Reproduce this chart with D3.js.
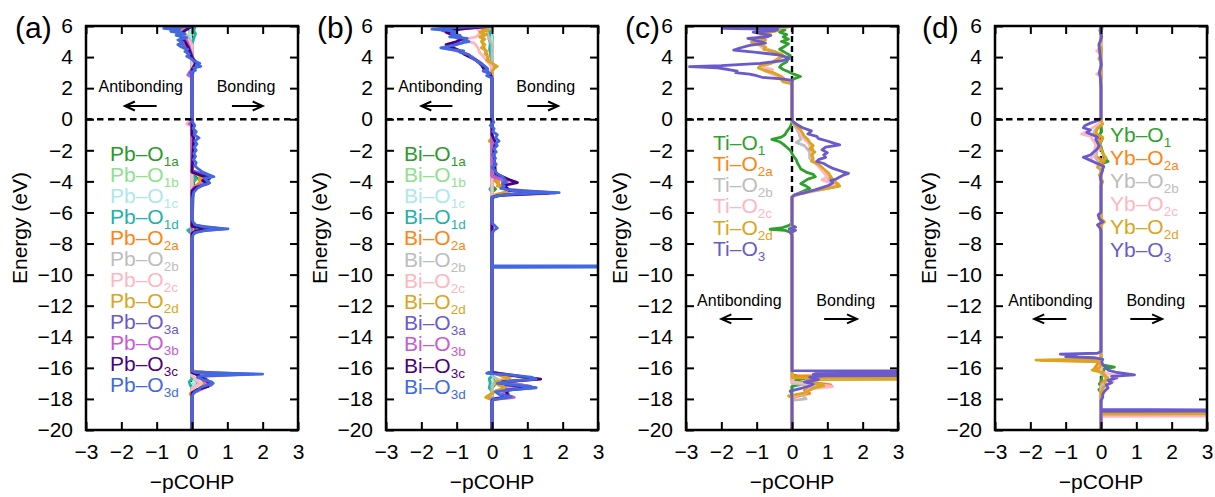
<!DOCTYPE html>
<html>
<head>
<meta charset="utf-8">
<script src="https://cdn.jsdelivr.net/npm/d3@7"></script>
<style>
  body { margin: 0; background: #fff; }
  svg { display: block; }
  text { font-family: "Liberation Sans", Arial, Helvetica, sans-serif; }
</style>
</head>
<body>
<svg id="chart" width="1215" height="497"></svg>
<script>
// ---- axis definitions ----
const energyDomain = [-20, 6];
const cohpDomain = [-3, 3];
const energyTicks = [6, 4, 2, 0, -2, -4, -6, -8, -10, -12, -14, -16, -18, -20];
const cohpTicks = [-3, -2, -1, 0, 1, 2, 3];
const panelLetters = ["(a)", "(b)", "(c)", "(d)"];
const metals = ["Pb", "Bi", "Ti", "Yb"];

// ---- series labels and colours ----
const labelsABCD12 = ["1a", "1b", "1c", "1d", "2a", "2b", "2c", "2d", "3a", "3b", "3c", "3d"];
const colorsABCD12 = ["#2a9a2a", "#8fe08f", "#aee8ea", "#22b2a6", "#ff8412", "#bdbdbd",
                      "#ffb6c1", "#daa520", "#6a5acd", "#c45cd6", "#4b0082", "#4169e1"];
const labels6 = ["1", "2a", "2b", "2c", "2d", "3"];
const colors6 = ["#2ea02e", "#ff8412", "#bdbdbd", "#ffb6c1", "#daa520", "#6a5acd"];

// ---- -pCOHP curves: [energy (eV), -pCOHP] ----
// (a) Pb–O
const pbO1a = [[6,0],[5.8,-0.1],[5.6,0.02],[5.2,-0.05],[4.6,0],[-3.5,0],[-3.8,0.15],[-4.0,0.05],[-6.9,0],[-7.1,0.1],[-7.25,0],[-16.5,0],[-16.9,0.15],[-17.2,0],[-20,0]];
const pbO1b = [[6,0],[5.6,-0.08],[5.0,0],[-3.7,0],[-3.85,0.1],[-4.0,0],[-16.6,0],[-16.9,0.1],[-17.1,0],[-20,0]];
const pbO1c = [[6,0],[5.4,-0.05],[4.8,0],[-16.7,0],[-17.0,0.08],[-17.2,0],[-20,0]];
const pbO1d = [[6,0],[5.9,0.08],[5.7,0.05],[5.5,0.1],[5.2,0.05],[4.8,0],[-3.6,0],[-3.8,0.1],[-4.1,0],[-7.0,0],[-7.15,-0.12],[-7.3,-0.05],[-7.4,0],[-16.7,0],[-16.9,-0.08],[-17.1,-0.05],[-17.3,0],[-20,0]];
const pbO2a = [[6,0],[5.85,-0.55],[5.7,-0.2],[5.5,-0.4],[5.3,-0.15],[5.0,-0.3],[4.6,-0.2],[4.3,-0.1],[4.0,0],[3.6,0.15],[3.3,0.05],[3.0,0],[-3.3,0],[-3.6,0.2],[-3.8,0.3],[-4.0,0.25],[-4.2,0.15],[-4.5,0],[-6.8,0],[-7.0,0.3],[-7.15,0.2],[-7.3,0],[-16.2,0],[-16.3,0.35],[-16.45,0.2],[-16.7,0.3],[-17.0,0.35],[-17.3,0.25],[-17.55,0.05],[-17.7,-0.05],[-17.85,0],[-20,0]];
const pbO2b = [[6,0],[5.7,-0.3],[5.3,-0.1],[4.8,0],[-16.5,0],[-17.0,0.2],[-17.4,0],[-20,0]];
const pbO2c = [[6,0],[5.6,-0.35],[5.3,-0.2],[4.8,0],[0.1,0],[-0.2,-0.1],[-0.3,-0.15],[-0.45,0],[-16.5,0],[-17.0,0.25],[-17.3,0],[-20,0]];
const pbO2d = [[6,0],[5.9,-0.6],[5.75,-0.25],[5.55,-0.45],[5.35,-0.2],[5.1,-0.35],[4.85,-0.2],[4.6,-0.25],[4.3,-0.05],[3.9,0],[3.5,0.15],[3.2,0.05],[2.9,-0.05],[2.7,0],[-3.4,0],[-3.65,0.25],[-3.9,0.2],[-4.1,0.3],[-4.3,0.1],[-4.6,0],[-6.8,0],[-6.95,0.15],[-7.1,0.35],[-7.25,0.15],[-7.4,0],[-16.2,0],[-16.3,0.4],[-16.45,0.15],[-16.7,0.25],[-17.0,0.45],[-17.3,0.2],[-17.5,0.15],[-17.65,-0.05],[-17.8,0.02],[-17.9,0],[-20,0]];
const pbO3a = [[6,0],[5.85,-0.7],[5.7,-0.4],[5.5,-0.3],[5.2,-0.3],[4.9,-0.3],[4.5,-0.15],[4.1,-0.1],[3.6,0.18],[3.2,0.05],[2.8,0],[-3.3,0],[-3.6,0.4],[-3.8,0.5],[-4.1,0.4],[-4.4,0.1],[-4.7,0],[-6.8,0],[-7.05,0.9],[-7.2,0.2],[-7.4,0],[-16.25,0],[-16.4,1.6],[-16.55,0.3],[-16.9,0.5],[-17.1,0.55],[-17.4,0.15],[-17.7,0],[-20,0]];
const pbO3b = [[6,0],[5.6,-0.3],[5.3,-0.2],[4.8,-0.1],[3.5,0.1],[3.0,-0.08],[2.85,-0.12],[2.7,0],[-0.2,0],[-0.3,-0.08],[-0.4,0],[-3.4,0],[-3.7,0.35],[-3.85,0.45],[-4.1,0.35],[-4.4,0.05],[-4.6,0],[-16.3,0],[-16.5,0.25],[-16.8,0.3],[-17.1,0.55],[-17.3,0.35],[-17.6,0.05],[-17.8,0],[-20,0]];
const pbO3c = [[6,0],[5.7,-0.2],[5.4,-0.35],[5.0,-0.2],[4.6,-0.1],[4.0,0],[3.6,0.1],[3.2,0],[-1.0,0],[-1.2,0.05],[-3.4,0],[-3.65,0.3],[-3.8,0.5],[-3.95,0.3],[-4.15,0.45],[-4.4,0.1],[-4.6,0],[-6.9,0],[-7.05,0.45],[-7.2,0.1],[-7.35,0],[-16.3,0],[-16.5,0.2],[-16.8,0.4],[-17.0,0.5],[-17.2,0.45],[-17.4,0.15],[-17.6,0],[-20,0]];
const pbO3d = [[6,0],[5.85,-0.8],[5.75,-0.35],[5.65,-0.6],[5.5,-0.2],[5.4,-0.45],[5.25,-0.15],[5.1,-0.4],[4.95,-0.25],[4.8,-0.4],[4.65,-0.3],[4.5,-0.12],[4.35,-0.2],[4.2,-0.08],[4.05,-0.15],[3.9,-0.02],[3.75,0.05],[3.6,0.22],[3.5,0.12],[3.4,0.25],[3.3,0.05],[3.15,0.1],[3.0,-0.05],[2.85,0.02],[2.7,0],[0.1,0],[-0.05,-0.05],[-0.2,0.02],[-0.4,0.08],[-0.6,0.03],[-0.8,0.12],[-1.0,0.06],[-1.2,0.2],[-1.4,0.08],[-1.6,0.14],[-1.8,0.06],[-2.0,0.12],[-2.2,0.05],[-2.4,0.1],[-2.6,0.04],[-2.8,0.12],[-3.0,0.08],[-3.2,0.18],[-3.4,0.3],[-3.55,0.45],[-3.7,0.62],[-3.8,0.35],[-3.95,0.42],[-4.1,0.5],[-4.25,0.3],[-4.45,0.15],[-4.7,0.05],[-5.0,0.02],[-5.2,0],[-6.4,0],[-6.6,0.03],[-6.8,0.1],[-6.95,0.35],[-7.05,1.02],[-7.15,0.4],[-7.3,0.08],[-7.5,0.02],[-7.7,0],[-16.2,0],[-16.3,0.1],[-16.4,2.0],[-16.5,0.35],[-16.6,0.15],[-16.75,0.3],[-16.9,0.55],[-17.0,0.6],[-17.1,0.45],[-17.25,0.25],[-17.4,0.2],[-17.55,0.08],[-17.7,0.03],[-17.85,0],[-20,0]];

// (b) Bi–O
const biO1a = [[6,0],[5.8,-0.05],[5.4,0],[-4.3,0],[-4.5,0.1],[-4.7,0],[-16.6,0],[-17.0,0.1],[-17.3,0],[-20,0]];
const biO1b = [[6,0],[5.6,-0.05],[5.2,0],[-16.7,0],[-17.0,0.08],[-17.2,0],[-20,0]];
const biO1c = [[6,0],[5.5,-0.03],[5.0,0],[-20,0]];
const biO1d = [[6,-0.05],[5.8,-0.08],[5.5,-0.06],[5.2,-0.09],[4.9,-0.05],[4.5,-0.07],[4.0,-0.03],[3.6,0],[-4.3,0],[-4.5,-0.06],[-4.7,0],[-16.5,0],[-16.7,-0.08],[-17.0,-0.05],[-17.3,-0.08],[-17.5,0],[-20,0]];
const biO2a = [[6,0],[5.85,-0.25],[5.6,-0.3],[5.3,-0.25],[5.0,-0.28],[4.6,-0.22],[4.2,-0.15],[3.8,-0.1],[3.4,0.1],[3.1,0],[-3.8,0],[-4.1,0.15],[-4.5,0.35],[-4.65,0.45],[-4.85,0.1],[-5.0,0],[-7.0,0],[-7.2,0.05],[-7.35,0],[-16.3,0],[-16.5,0.25],[-16.75,0.45],[-17.0,0.1],[-17.3,0.35],[-17.5,0.1],[-17.85,-0.15],[-18.0,0],[-20,0]];
const biO2b = [[6,0],[5.7,-0.15],[5.3,-0.1],[4.8,0],[-9.42,0],[-9.48,0.05],[-9.54,0],[-16.5,0],[-16.8,0.2],[-17.1,0],[-20,0]];
const biO2c = [[6,0],[5.85,-0.45],[5.6,-0.3],[5.3,-0.45],[5.1,-0.85],[4.9,-0.5],[4.6,-0.4],[4.3,-0.35],[3.9,-0.2],[3.5,-0.05],[3.2,0],[-16.3,0],[-16.45,0.45],[-16.6,0.55],[-16.8,0.2],[-17.3,0.5],[-17.5,0.2],[-17.9,0.6],[-18.05,0],[-20,0]];
const biO2d = [[6,0],[5.9,-0.3],[5.75,-0.1],[5.6,-0.35],[5.45,-0.15],[5.3,-0.35],[5.15,-0.2],[5.0,-0.3],[4.8,-0.2],[4.6,-0.3],[4.4,-0.15],[4.2,-0.2],[4.0,-0.1],[3.8,-0.15],[3.6,0.0],[3.4,0.15],[3.25,0.05],[3.1,0],[-1.2,0],[-1.4,-0.08],[-1.6,0.05],[-1.8,0],[-3.6,0],[-3.8,0.1],[-4.0,0.2],[-4.3,0.15],[-4.5,0.4],[-4.65,0.5],[-4.8,0.2],[-5.0,0],[-16.3,0],[-16.5,0.3],[-16.7,0.5],[-16.9,0.1],[-17.1,0.2],[-17.3,0.4],[-17.5,0.1],[-17.9,-0.18],[-18.05,0],[-20,0]];
const biO3a = [[6,0],[5.85,-1.0],[5.7,-1.4],[5.5,-1.0],[5.3,-1.05],[5.1,-0.75],[4.9,-0.85],[4.65,-1.3],[4.45,-1.0],[4.2,-0.7],[3.9,-0.5],[3.6,-0.3],[3.3,-0.15],[3.0,-0.1],[2.7,0],[-3.6,0],[-3.9,0.3],[-4.2,0.3],[-4.5,0.4],[-4.72,1.7],[-4.85,0.4],[-5.0,0],[-16.3,0],[-16.5,0.7],[-16.7,1.2],[-16.9,0.3],[-17.2,1.1],[-17.4,0.4],[-17.85,0.5],[-18.0,0],[-20,0]];
const biO3b = [[6,0],[5.8,-0.9],[5.6,-1.2],[5.3,-1.0],[5.1,-0.95],[4.8,-1.0],[4.6,-1.35],[4.3,-0.85],[4.0,-0.55],[3.6,-0.35],[3.2,-0.18],[2.9,-0.08],[2.7,0],[-3.7,0],[-4.0,0.45],[-4.2,0.3],[-4.6,0.45],[-4.75,1.8],[-4.9,0.2],[-5.05,0],[-16.3,0],[-16.5,0.6],[-16.72,1.3],[-16.9,0.4],[-17.2,1.05],[-17.4,0.5],[-17.7,0.3],[-17.9,0.63],[-18.05,0],[-20,0]];
const biO3c = [[6,0],[5.8,-0.9],[5.6,-1.3],[5.4,-1.1],[5.2,-0.8],[5.0,-1.0],[4.8,-1.3],[4.6,-1.1],[4.4,-0.9],[4.2,-0.8],[3.8,-0.45],[3.5,-0.3],[3.1,-0.2],[2.9,-0.05],[2.6,0],[-1.0,0],[-1.5,0.1],[-2.0,0.05],[-3.5,0.1],[-3.9,0.5],[-4.08,0.72],[-4.25,0.35],[-4.6,0.5],[-4.75,1.6],[-4.9,0.2],[-5.05,0],[-16.3,0],[-16.5,0.6],[-16.73,1.38],[-16.9,0.3],[-17.1,0.4],[-17.27,1.2],[-17.45,0.4],[-17.85,0.45],[-18.0,0.1],[-18.1,0],[-20,0]];
const biO3d = [[6,0],[5.9,-1.1],[5.8,-1.7],[5.7,-1.2],[5.6,-1.0],[5.5,-1.15],[5.4,-0.9],[5.3,-1.2],[5.2,-0.7],[5.1,-0.8],[5.0,-0.65],[4.9,-0.9],[4.75,-1.1],[4.6,-1.45],[4.5,-1.2],[4.4,-0.8],[4.3,-0.9],[4.15,-0.65],[4.0,-0.6],[3.85,-0.5],[3.7,-0.4],[3.55,-0.3],[3.4,-0.2],[3.25,-0.12],[3.1,-0.25],[2.95,-0.05],[2.8,-0.15],[2.65,0],[0.1,0],[-0.2,0.05],[-0.4,-0.05],[-0.6,0.06],[-0.8,0.02],[-1.0,0.15],[-1.2,0.1],[-1.4,0.2],[-1.55,0.1],[-1.7,0.15],[-1.9,0.05],[-2.1,0.12],[-2.3,0.02],[-2.5,0.1],[-2.7,0.05],[-2.9,0.12],[-3.1,0.0],[-3.3,0.08],[-3.5,0.15],[-3.7,0.3],[-3.85,0.35],[-4.0,0.4],[-4.15,0.3],[-4.3,0.35],[-4.45,0.25],[-4.6,0.6],[-4.72,1.9],[-4.8,0.7],[-4.9,0.2],[-5.05,0],[-6.7,0],[-6.85,0.08],[-7.0,0.15],[-7.15,0.05],[-7.3,0],[-9.53,0],[-9.47,10],[-9.43,0],[-16.2,0],[-16.35,-0.15],[-16.45,0.5],[-16.6,1.1],[-16.72,1.25],[-16.85,0.5],[-17.0,0.15],[-17.15,0.8],[-17.28,1.25],[-17.4,0.6],[-17.55,0.1],[-17.7,0.2],[-17.85,0.55],[-17.95,0.3],[-18.05,0.05],[-18.15,0],[-20,0]];

// (c) Ti–O
const tiO1 = [[6,0],[5.85,-0.4],[5.75,-0.2],[5.6,-0.35],[5.45,-0.15],[5.3,-0.25],[5.15,-0.1],[5.0,-0.3],[4.85,-0.1],[4.7,-0.2],[4.5,-0.35],[4.3,-0.2],[4.1,-0.05],[3.9,-0.1],[3.7,-0.15],[3.5,-0.3],[3.35,-0.35],[3.2,-0.25],[3.05,-0.1],[2.9,0.05],[2.75,0.24],[2.6,0.05],[2.5,0],[-0.2,0],[-0.5,-0.05],[-0.8,-0.15],[-1.0,-0.2],[-1.15,-0.3],[-1.3,-0.57],[-1.45,-0.35],[-1.6,-0.25],[-1.8,-0.15],[-2.0,-0.05],[-2.2,0.0],[-2.4,0.05],[-2.6,0.12],[-2.8,0.15],[-3.0,0.2],[-3.2,0.25],[-3.4,0.4],[-3.55,0.6],[-3.7,0.66],[-3.85,0.45],[-4.0,0.35],[-4.15,0.25],[-4.3,0.4],[-4.45,0.5],[-4.6,0.35],[-4.75,0.2],[-4.9,0.05],[-5.05,0],[-6.7,0],[-6.85,-0.1],[-7.0,-0.3],[-7.08,-0.62],[-7.15,-0.2],[-7.3,0],[-16.4,0],[-16.55,0.15],[-16.7,0.35],[-16.8,0.1],[-16.9,0.2],[-17.0,0.45],[-17.1,0.2],[-17.2,0],[-20,0]];
const tiO2a = [[6,0],[5.85,-0.55],[5.7,-0.45],[5.5,-0.8],[5.3,-0.9],[5.1,-0.75],[4.9,-1.05],[4.7,-0.85],[4.5,-0.7],[4.3,-0.45],[4.1,-0.25],[3.9,-0.35],[3.7,-0.5],[3.5,-0.8],[3.35,-0.85],[3.15,-0.7],[2.95,-0.5],[2.75,-0.3],[2.55,-0.2],[2.4,0],[-0.1,0],[-0.5,0.12],[-0.9,0.28],[-1.3,0.4],[-1.7,0.55],[-2.1,0.6],[-2.5,0.55],[-2.9,0.7],[-3.3,0.9],[-3.6,1.0],[-3.9,1.1],[-4.1,1.25],[-4.3,1.3],[-4.5,0.9],[-4.7,0.4],[-4.9,0.05],[-5.05,0],[-16.5,0],[-16.56,8],[-16.62,0.4],[-16.9,0.5],[-17.1,1.1],[-17.25,0.6],[-17.45,0.35],[-17.65,0.5],[-17.85,0.1],[-18.0,0],[-20,0]];
const tiO2b = [[6,0],[5.8,-0.5],[5.5,-0.7],[5.2,-0.9],[4.9,-1.0],[4.6,-0.8],[4.3,-0.5],[4.0,-0.3],[3.7,-0.45],[3.4,-0.85],[3.1,-0.75],[2.8,-0.45],[2.5,-0.25],[2.3,0],[-0.1,0],[-0.5,0.1],[-0.9,0.2],[-1.3,0.25],[-1.5,0.12],[-1.7,0.35],[-2.1,0.5],[-2.5,0.5],[-2.9,0.7],[-3.3,0.9],[-3.7,1.0],[-4.0,1.05],[-4.3,1.2],[-4.5,0.8],[-4.8,0.2],[-5.0,0],[-17.0,0],[-17.2,0.8],[-17.5,0.4],[-17.8,0.3],[-18.0,0.4],[-18.1,0],[-20,0]];
const tiO2c = [[6,0],[5.8,-0.55],[5.5,-0.75],[5.2,-0.95],[4.9,-0.95],[4.6,-0.85],[4.3,-0.45],[4.0,-0.3],[3.7,-0.5],[3.4,-0.9],[3.2,-0.55],[3.0,-0.65],[2.7,-0.35],[2.4,-0.15],[2.3,0],[-0.1,0],[-0.5,0.12],[-0.9,0.25],[-1.3,0.35],[-1.5,0.45],[-1.7,0.5],[-2.1,0.55],[-2.5,0.55],[-2.9,0.7],[-3.3,0.85],[-3.7,1.0],[-3.9,0.85],[-4.1,1.1],[-4.3,1.2],[-4.5,0.85],[-4.8,0.25],[-5.0,0],[-16.9,0],[-17.05,0.6],[-17.2,1.15],[-17.35,0.5],[-17.6,0.4],[-17.8,0.1],[-17.9,0],[-20,0]];
const tiO2d = [[6,0],[5.85,-0.6],[5.7,-0.4],[5.55,-0.85],[5.4,-0.6],[5.25,-1.0],[5.1,-0.8],[4.95,-1.15],[4.8,-0.9],[4.65,-0.75],[4.5,-0.8],[4.35,-0.5],[4.2,-0.3],[4.05,-0.25],[3.9,-0.4],[3.75,-0.5],[3.6,-0.6],[3.45,-0.9],[3.3,-0.95],[3.15,-0.8],[3.0,-0.55],[2.85,-0.4],[2.7,-0.35],[2.55,-0.3],[2.4,-0.25],[2.3,-0.05],[2.2,0],[-0.1,0],[-0.3,0.05],[-0.5,0.15],[-0.7,0.25],[-0.9,0.3],[-1.1,0.35],[-1.3,0.45],[-1.5,0.5],[-1.7,0.6],[-1.9,0.5],[-2.1,0.65],[-2.3,0.55],[-2.5,0.6],[-2.7,0.55],[-2.9,0.75],[-3.1,0.85],[-3.3,0.95],[-3.5,1.05],[-3.7,1.1],[-3.85,1.15],[-4.0,1.2],[-4.15,1.3],[-4.3,1.35],[-4.45,1.0],[-4.6,0.6],[-4.75,0.3],[-4.9,0.05],[-5.05,0],[-6.9,0],[-7.1,-0.05],[-7.2,0.05],[-7.3,0],[-16.64,0],[-16.7,8],[-16.76,0.5],[-17.0,0.6],[-17.15,0.9],[-17.3,0.6],[-17.5,0.45],[-17.65,0.3],[-17.8,-0.1],[-17.95,0],[-20,0]];
const tiO3 = [[6,0],[5.85,-1.95],[5.78,-0.4],[5.7,-0.5],[5.6,-1.1],[5.5,-0.85],[5.4,-0.6],[5.3,-0.7],[5.2,-1.25],[5.05,-1.0],[4.9,-0.75],[4.75,-1.2],[4.6,-1.45],[4.45,-1.65],[4.3,-1.0],[4.15,-0.4],[4.0,-0.15],[3.9,-0.08],[3.75,-0.3],[3.6,-0.9],[3.45,-2.0],[3.38,-2.9],[3.3,-2.1],[3.2,-1.8],[3.1,-1.55],[3.0,-1.6],[2.9,-1.2],[2.8,-1.0],[2.7,-0.85],[2.6,-0.3],[2.5,0],[0,0],[-0.15,0.03],[-0.35,0.15],[-0.55,0.3],[-0.75,0.55],[-0.95,0.45],[-1.1,0.7],[-1.25,0.75],[-1.4,1.0],[-1.55,1.2],[-1.65,1.35],[-1.8,0.95],[-1.97,0.85],[-2.15,1.0],[-2.3,0.9],[-2.45,0.95],[-2.6,0.75],[-2.72,0.7],[-2.85,0.9],[-3.05,1.05],[-3.2,1.2],[-3.35,1.4],[-3.48,1.6],[-3.6,1.45],[-3.72,1.35],[-3.85,1.25],[-3.95,1.1],[-4.1,1.15],[-4.25,1.05],[-4.4,0.85],[-4.55,0.65],[-4.7,0.4],[-4.85,0.1],[-5.0,0],[-6.8,0],[-6.95,0.1],[-7.05,-0.08],[-7.15,0.1],[-7.3,-0.05],[-7.45,0],[-16.18,0],[-16.24,8],[-16.3,0.8],[-16.42,0.6],[-16.46,7],[-16.52,0.9],[-16.6,0.5],[-16.75,0.75],[-16.9,0.35],[-17.05,0.6],[-17.2,0.45],[-17.35,0.2],[-17.5,-0.05],[-17.6,-0.02],[-17.8,0],[-20,0]];

// (d) Yb–O
const ybO1 = [[6,0],[5.9,0.03],[5.5,0],[-0.5,0],[-0.8,0.02],[-1.0,-0.05],[-1.2,0.05],[-1.6,-0.03],[-2.0,0.03],[-2.5,0.1],[-2.72,0.2],[-2.85,0.05],[-3.0,0],[-15.8,0],[-15.95,0.38],[-16.05,0.1],[-16.3,0.05],[-16.9,0],[-17.05,-0.05],[-17.2,0.05],[-17.4,-0.06],[-17.6,0],[-18.75,0],[-18.85,0.12],[-18.95,0],[-20,0]];
const ybO2a = [[6,0],[4.8,0],[4.7,-0.04],[4.6,0],[-0.2,0],[-0.5,-0.1],[-0.9,-0.2],[-1.3,-0.05],[-2.4,-0.15],[-2.7,0.1],[-3.0,-0.05],[-3.3,0],[-15.45,0],[-15.52,-1.7],[-15.6,-0.05],[-16.1,-0.2],[-16.3,0.1],[-16.7,0.15],[-17.0,0],[-18.9,0],[-18.96,8],[-19.02,0],[-20,0]];
const ybO2b = [[6,0],[4.0,0],[3.9,-0.05],[3.8,0],[-0.3,0],[-0.8,-0.2],[-1.0,-0.15],[-1.5,-0.1],[-2.5,-0.15],[-3.0,0],[-16.4,0],[-16.6,0.2],[-16.9,0.1],[-17.2,0],[-18.94,0],[-19.0,8],[-19.06,0],[-20,0]];
const ybO2c = [[6,0],[4.6,0],[4.4,-0.12],[4.2,0],[3.0,0],[2.9,-0.12],[2.8,0],[-0.2,0],[-0.5,-0.2],[-0.8,-0.4],[-0.95,-0.55],[-1.1,-0.3],[-1.6,-0.15],[-2.3,-0.2],[-2.6,-0.3],[-2.9,-0.1],[-3.3,0],[-16.3,0],[-16.5,0.5],[-16.7,0.3],[-16.9,0.35],[-17.1,0.15],[-17.4,0],[-19.0,0],[-19.06,8],[-19.12,0],[-20,0]];
const ybO2d = [[6,0],[5.0,0],[4.8,-0.05],[4.6,0],[4.1,0],[3.9,-0.06],[3.7,0],[-0.1,0],[-0.3,0.05],[-0.6,-0.1],[-0.9,-0.15],[-1.2,0.05],[-1.6,-0.05],[-2.2,0.05],[-2.5,0.15],[-2.8,-0.05],[-3.1,-0.1],[-3.3,0.05],[-3.6,-0.05],[-4.0,0.05],[-4.3,0],[-6.4,0],[-6.6,0.1],[-6.8,0],[-15.44,0],[-15.5,-1.84],[-15.58,-0.1],[-15.8,0],[-16.0,-0.05],[-16.15,-0.25],[-16.3,0.05],[-16.5,0.1],[-16.7,0.2],[-16.9,0.1],[-17.1,0.15],[-17.3,0.05],[-17.6,0],[-18.86,0],[-18.92,8],[-18.98,0],[-20,0]];
const ybO3 = [[6,0],[5.7,-0.03],[5.3,0.02],[4.8,-0.06],[4.4,-0.04],[4.0,-0.02],[3.5,0.01],[3.0,-0.05],[2.7,-0.02],[2.0,0],[0.05,0],[-0.1,-0.1],[-0.25,-0.3],[-0.4,-0.45],[-0.55,-0.5],[-0.7,-0.3],[-0.85,-0.4],[-1.0,-0.25],[-1.15,-0.1],[-1.3,-0.15],[-1.5,-0.1],[-1.7,-0.05],[-1.9,-0.1],[-2.1,-0.2],[-2.3,-0.3],[-2.45,-0.5],[-2.6,-0.35],[-2.75,-0.2],[-2.9,-0.05],[-3.05,0.08],[-3.2,0.05],[-3.4,0.03],[-3.6,0.0],[-3.8,-0.02],[-4.0,0.01],[-4.3,0],[-6.0,0],[-6.15,-0.08],[-6.4,-0.05],[-6.6,0.05],[-6.8,-0.1],[-7.0,-0.03],[-7.2,0],[-14.95,0],[-15.06,-0.1],[-15.12,-1.15],[-15.2,-0.7],[-15.28,-1.0],[-15.35,-0.2],[-15.45,0.05],[-15.6,0.02],[-15.8,0.05],[-16.0,0.15],[-16.15,0.2],[-16.3,0.45],[-16.45,0.95],[-16.55,0.3],[-16.65,0.45],[-16.8,0.2],[-16.95,0.3],[-17.1,0.15],[-17.3,0.2],[-17.5,0.1],[-17.7,0.05],[-17.9,0.05],[-18.1,0],[-18.68,0],[-18.74,8],[-18.8,0],[-20,0]];

// ---- panel layout ----
const W = 1215, H = 497;
const plotTop = 26, plotBottom = 430, plotWidth = 212;

const panels = [
  { left: 86,  metal: metals[0], letter: panelLetters[0], letterX: -71, labels: labelsABCD12, colors: colorsABCD12,
    data: [pbO1a, pbO1b, pbO1c, pbO1d, pbO2a, pbO2b, pbO2c, pbO2d, pbO3a, pbO3b, pbO3c, pbO3d],
    legend: { x: 24, y: 153, step: 21 },
    notes: { e: 2.12, arrowE: 0.85, anti: -1.45, bond: 1.53, arrowL: [-1.0, -1.9], arrowR: [1.13, 2.0] } },
  { left: 386, metal: metals[1], letter: panelLetters[1], letterX: -69, labels: labelsABCD12, colors: colorsABCD12,
    data: [biO1a, biO1b, biO1c, biO1d, biO2a, biO2b, biO2c, biO2d, biO3a, biO3b, biO3c, biO3d],
    legend: { x: 18, y: 153, step: 21.2 },
    notes: { e: 2.12, arrowE: 0.85, anti: -1.46, bond: 1.52, arrowL: [-1.12, -2.0], arrowR: [1.0, 1.87] } },
  { left: 686, metal: metals[2], letter: panelLetters[2], letterX: -61, labels: labels6, colors: colors6,
    data: [tiO1, tiO2a, tiO2b, tiO2c, tiO2d, tiO3],
    legend: { x: 27, y: 142, step: 21.3 },
    notes: { e: -11.63, arrowE: -12.85, anti: -1.49, bond: 1.52, arrowL: [-1.12, -2.0], arrowR: [0.91, 1.84] } },
  { left: 995, metal: metals[3], letter: panelLetters[3], letterX: -73, labels: labels6, colors: colors6,
    data: [ybO1, ybO2a, ybO2b, ybO2c, ybO2d, ybO3],
    legend: { x: 115, y: 134, step: 23 },
    notes: { e: -11.63, arrowE: -12.85, anti: -1.43, bond: 1.55, arrowL: [-0.98, -1.89], arrowR: [0.83, 1.73] } }
];

const svg = d3.select("#chart");
svg.append("rect").attr("width", W).attr("height", H).attr("fill", "#fff");
const defs = svg.append("defs");

const y = d3.scaleLinear().domain(energyDomain).range([plotBottom, plotTop]);
const x = d3.scaleLinear().domain(cohpDomain).range([0, plotWidth]);
const line = d3.line().x(d => x(d[1])).y(d => y(d[0]));

panels.forEach((p, i) => {
  const g = svg.append("g").attr("transform", `translate(${p.left},0)`);
  const clipId = "plot-clip-" + i;
  defs.append("clipPath").attr("id", clipId)
    .append("rect").attr("x", 0).attr("y", plotTop)
    .attr("width", plotWidth).attr("height", plotBottom - plotTop);

  const plot = g.append("g").attr("clip-path", `url(#${clipId})`);

  // vertical reference at -pCOHP = 0
  plot.append("line")
    .attr("x1", x(0)).attr("x2", x(0)).attr("y1", plotTop).attr("y2", plotBottom)
    .attr("stroke", "#000").attr("stroke-width", 2.4).attr("stroke-dasharray", "6,4");

  // curves, first legend entry at the back
  p.data.forEach((vals, k) => {
    plot.append("path").datum(vals)
      .attr("d", line)
      .attr("fill", "none")
      .attr("stroke", p.colors[k])
      .attr("stroke-width", 2.8)
      .attr("stroke-linejoin", "round")
      .attr("stroke-linecap", "round");
  });

  // Fermi level
  plot.append("line")
    .attr("x1", 0).attr("x2", plotWidth).attr("y1", y(0)).attr("y2", y(0))
    .attr("stroke", "#000").attr("stroke-width", 2.4).attr("stroke-dasharray", "6.5,4.5");

  // axes with inward ticks on all four sides
  const tickStyle = sel => {
    sel.select(".domain").remove();
    sel.selectAll(".tick line").attr("stroke", "#000").attr("stroke-width", 2);
    sel.selectAll(".tick text").attr("fill", "#000").style("font-size", "21px")
      .style("font-family", '"Liberation Sans", Arial, sans-serif');
  };
  g.append("g")
    .call(d3.axisLeft(y).tickValues(energyTicks).tickSize(-8).tickPadding(13).tickFormat(d3.format("d")))
    .call(tickStyle);
  g.append("g").attr("transform", `translate(${plotWidth},0)`)
    .call(d3.axisRight(y).tickValues(energyTicks).tickSize(-8).tickFormat(""))
    .call(tickStyle);
  g.append("g").attr("transform", `translate(0,${plotBottom})`)
    .call(d3.axisBottom(x).tickValues(cohpTicks).tickSize(-8).tickPadding(14).tickFormat(d3.format("d")))
    .call(tickStyle);
  g.append("g").attr("transform", `translate(0,${plotTop})`)
    .call(d3.axisTop(x).tickValues(cohpTicks).tickSize(-8).tickFormat(""))
    .call(tickStyle);

  // frame
  g.append("rect")
    .attr("x", 0).attr("y", plotTop).attr("width", plotWidth).attr("height", plotBottom - plotTop)
    .attr("fill", "none").attr("stroke", "#000").attr("stroke-width", 2.5);

  // axis titles and panel letter
  g.append("text")
    .attr("transform", `translate(-66,${(plotTop + plotBottom) / 2}) rotate(-90)`)
    .attr("text-anchor", "middle").attr("dy", "0.35em")
    .style("font-size", "21px").text("Energy (eV)");
  g.append("text")
    .attr("x", plotWidth / 2).attr("y", 489)
    .attr("text-anchor", "middle")
    .style("font-size", "21px").text("\u2212pCOHP");
  g.append("text")
    .attr("x", p.letterX).attr("y", 38)
    .style("font-size", "30px").text(p.letter);

  // bonding / antibonding annotations
  const n = p.notes;
  g.append("text").attr("x", x(n.anti)).attr("y", y(n.e)).attr("dy", "0.36em")
    .attr("text-anchor", "middle").style("font-size", "16px").text("Antibonding");
  g.append("text").attr("x", x(n.bond)).attr("y", y(n.e)).attr("dy", "0.36em")
    .attr("text-anchor", "middle").style("font-size", "16px").text("Bonding");
  const arrow = (from, to) => {
    const x0 = x(from), x1 = x(to), ya = y(n.arrowE), dir = Math.sign(x1 - x0);
    g.append("path")
      .attr("d", `M${x0},${ya}H${x1}M${x1 - dir * 10},${ya - 4.5}L${x1},${ya}L${x1 - dir * 10},${ya + 4.5}`)
      .attr("fill", "none").attr("stroke", "#000").attr("stroke-width", 2);
  };
  arrow(n.arrowL[0], n.arrowL[1]);
  arrow(n.arrowR[0], n.arrowR[1]);

  // legend
  p.labels.forEach((lab, k) => {
    const t = g.append("text")
      .attr("x", p.legend.x).attr("y", p.legend.y + k * p.legend.step + 7.5)
      .attr("fill", p.colors[k]).style("font-size", "21px");
    t.append("tspan").text(p.metal + "\u2013O");
    t.append("tspan").attr("dy", 5).style("font-size", "13.5px").text(lab);
  });
});
</script>
</body>
</html>
